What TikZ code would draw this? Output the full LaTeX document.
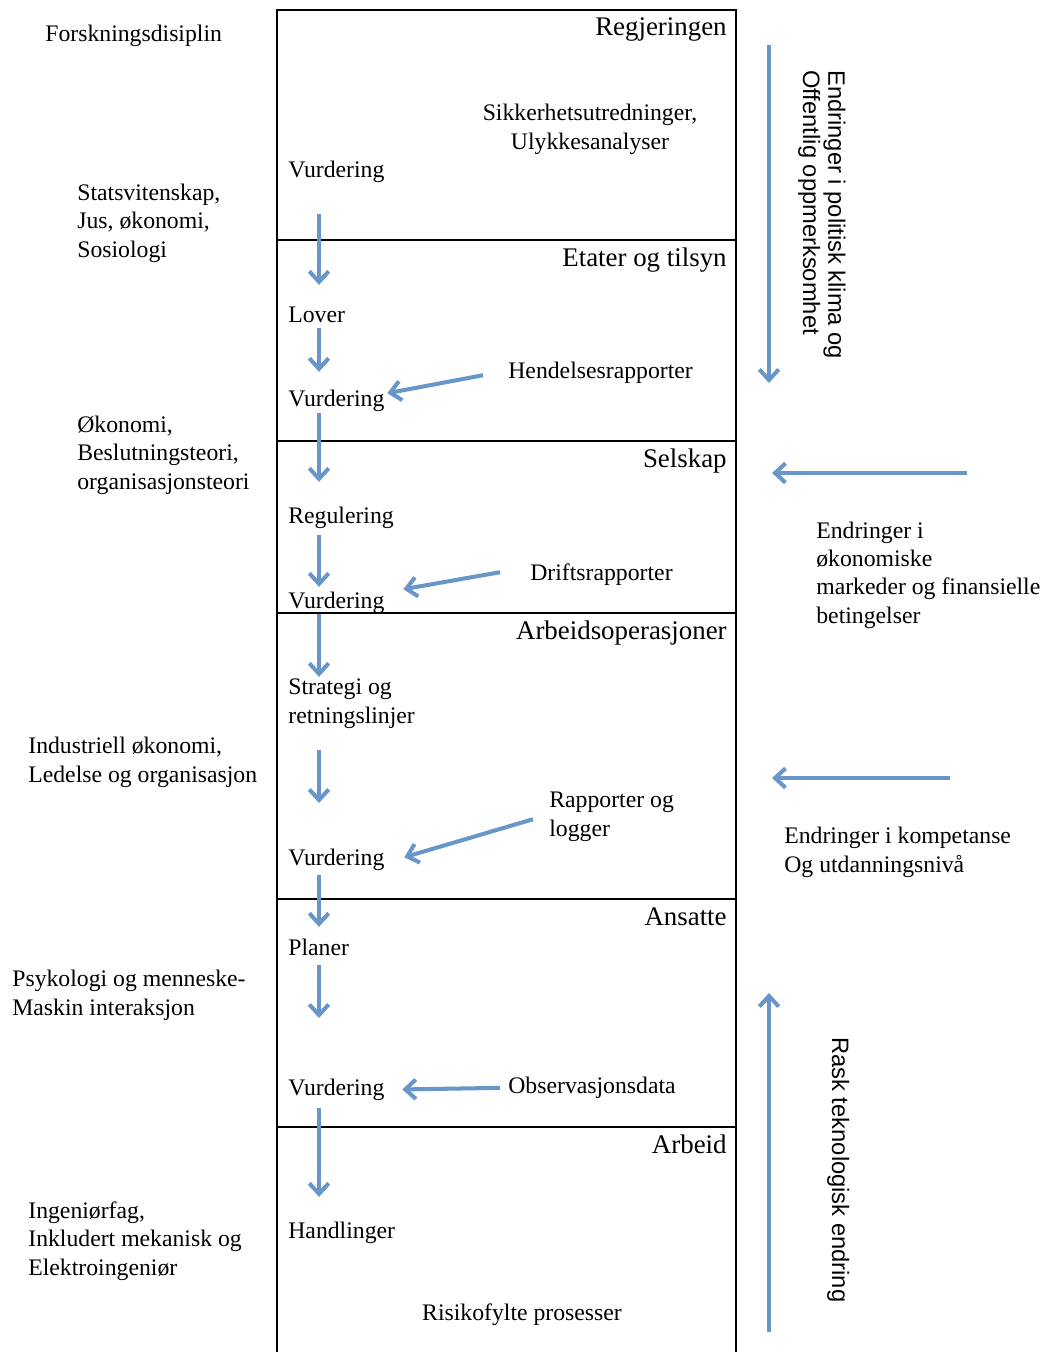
\documentclass[tikz,border=0pt]{standalone}
\usepackage{fontspec}
\setmainfont{Liberation Serif}
\newfontfamily\vsans{Liberation Sans}
\usetikzlibrary{arrows.meta}
\definecolor{flowblue}{RGB}{104,150,203}

\tikzset{>={Straight Barb[length=6pt,width=11pt]},
             layer/.style={font=\fontsize{15.3}{18}\selectfont, anchor=base east, inner sep=0pt},
             txt/.style={font=\fontsize{13.5}{16}\selectfont, align=left, anchor=base west, inner sep=0pt},
             stage/.style={txt, text height=9pt, text depth=3pt},
             side/.style={font=\vsans\fontsize{13.5}{14.5}\selectfont, align=left, anchor=base west, inner sep=0pt, rotate=-90},
             flow/.style={->, draw=flowblue, line width=2.3pt},
             frame/.style={line width=1.2pt}}

\begin{document}
\begin{tikzpicture}
        \useasboundingbox (0,0) rectangle (21,-27.04);

        \draw[frame] (5.54,-27.3) -- (5.54,-0.2) -- (14.72,-0.2) -- (14.72,-27.3);
        \draw[frame]
            (5.54, -4.80) -- (14.72, -4.80)
            (5.54, -8.82) -- (14.72, -8.82)
            (5.54,-12.26) -- (14.72,-12.26)
            (5.54,-17.98) -- (14.72,-17.98)
            (5.54,-22.54) -- (14.72,-22.54);

        \node[layer] at (14.54, -0.70) (reg)   {Regjeringen};
        \node[layer] at (14.54, -5.32) (etat)  {Etater og tilsyn};
        \node[layer] at (14.54, -9.34) (selsk) {Selskap};
        \node[layer] at (14.54,-12.78) (arbop) {Arbeidsoperasjoner};
        \node[layer] at (14.54,-18.50) (ans)   {Ansatte};
        \node[layer] at (14.54,-23.06) (arb)   {Arbeid};

        \node[stage] at (5.76, -3.54) (vurdA)  {Vurdering};
        \node[stage] at (5.76, -6.44) (lover)  {Lover};
        \node[stage] at (5.76, -8.12) (vurdB)  {Vurdering};
        \node[stage] at (5.76,-10.46) (regul)  {Regulering};
        \node[stage] at (5.76,-12.16) (vurdC)  {Vurdering};
        \node[txt]   at (5.76,-14.46) (strat)  {Strategi og\\retningslinjer};
        \node[stage] at (5.76,-17.30) (vurdD)  {Vurdering};
        \node[stage] at (5.76,-19.10) (planer) {Planer};
        \node[stage] at (5.76,-21.90) (vurdE)  {Vurdering};
        \node[stage] at (5.76,-24.76) (handl)  {Handlinger};

        \node[txt, align=center, anchor=base] at (11.80, -2.98) (sikk) {Sikkerhetsutredninger,\\Ulykkesanalyser};
        \node[stage] at (10.16, -7.56) (hend)  {Hendelsesrapporter};
        \node[stage] at (10.60,-11.60) (drift) {Driftsrapporter};
        \node[txt]   at (10.98,-16.72) (rapp)  {Rapporter og\\logger};
        \node[stage] at (10.16,-21.86) (obs)   {Observasjonsdata};
        \node[txt, anchor=base] at (10.44,-26.40) (risk) {Risikofylte prosesser};

        \node[txt] at (0.90, -0.82) (forsk) {Forskningsdisiplin};
        \node[txt] at (1.54, -5.14) (stat)  {Statsvitenskap,\\Jus, økonomi,\\Sosiologi};
        \node[txt] at (1.54, -9.78) (okon)  {Økonomi,\\Beslutningsteori,\\organisasjonsteori};
        \node[txt] at (0.56,-15.64) (indus) {Industriell økonomi,\\Ledelse og organisasjon};
        \node[txt] at (0.24,-20.30) (psyk)  {Psykologi og menneske-\\Maskin interaksjon};
        \node[txt] at (0.56,-25.50) (ing)   {Ingeniørfag,\\Inkludert mekanisk og\\Elektroingeniør};

        \node[txt] at (16.32,-12.46) (okend) {Endringer i\\økonomiske\\markeder og finansielle\\betingelser};
        \node[txt] at (15.68,-17.44) (komp)  {Endringer i kompetanse\\Og utdanningsnivå};

        \node[side] at (16.06, -1.40) (pol) {Endringer i politisk klima og\\Offentlig oppmerksomhet};
        \node[side] at (16.64,-20.74) (tek) {Rask teknologisk endring};

        \coordinate (col)      at ( 6.38,  0.00);
        \coordinate (stratEnd) at ( 6.38,-16.06);
        \coordinate (planEnd)  at ( 6.38,-20.36);
        \coordinate (polA)     at (15.38, -0.90);
        \coordinate (polB)     at (15.38, -7.66);
        \coordinate (okA)      at (19.34, -9.46);
        \coordinate (okB)      at (15.44, -9.46);
        \coordinate (kompA)    at (19.00,-15.56);
        \coordinate (kompB)    at (15.44,-15.56);
        \coordinate (tekA)     at (15.38,-26.64);
        \coordinate (tekB)     at (15.38,-19.86);

        \draw[flow, shorten <=0.62cm, shorten >=0.42cm] (col |- vurdA.south)  -- (col |- lover.north);
        \draw[flow, shorten >=0.36cm]                   (col |- lover.south)  -- (col |- vurdB.north);
        \draw[flow, shorten <=0.03cm, shorten >=0.50cm] (col |- vurdB.south)  -- (col |- regul.north);
        \draw[flow, shorten <=0.13cm, shorten >=0.10cm] (col |- regul.south)  -- (col |- vurdC.north);
        \draw[flow, shorten >=0.04cm]                   (col |- vurdC.south)  -- (col |- strat.north);
        \draw[flow, shorten <=0.44cm]                   (col |- strat.south)  -- (stratEnd);
        \draw[flow, shorten <=0.09cm, shorten >=0.24cm] (col |- vurdD.south)  -- (col |- planer.north);
        \draw[flow, shorten <=0.09cm]                   (col |- planer.south) -- (planEnd);
        \draw[flow, shorten <=0.15cm, shorten >=0.50cm] (col |- vurdE.south)  -- (col |- handl.north);

        \draw[flow] ([xshift=-0.50cm, yshift=-0.05cm]hend.west)  -- ([xshift=0.05cm, yshift=0.15cm]vurdB.east);
        \draw[flow] ([xshift=-0.60cm, yshift=0.05cm]drift.west)  -- ([xshift=0.37cm, yshift=0.27cm]vurdC.east);
        \draw[flow] ([xshift=-0.32cm, yshift=-0.05cm]rapp.west)  -- ([xshift=0.39cm, yshift=0.05cm]vurdD.east);
        \draw[flow, shorten <=0.16cm, shorten >=0.35cm] (obs.west) -- (vurdE.east);

        \draw[flow] (polA)  -- (polB);
        \draw[flow] (okA)   -- (okB);
        \draw[flow] (kompA) -- (kompB);
        \draw[flow] (tekA)  -- (tekB);
\end{tikzpicture}
\end{document}
